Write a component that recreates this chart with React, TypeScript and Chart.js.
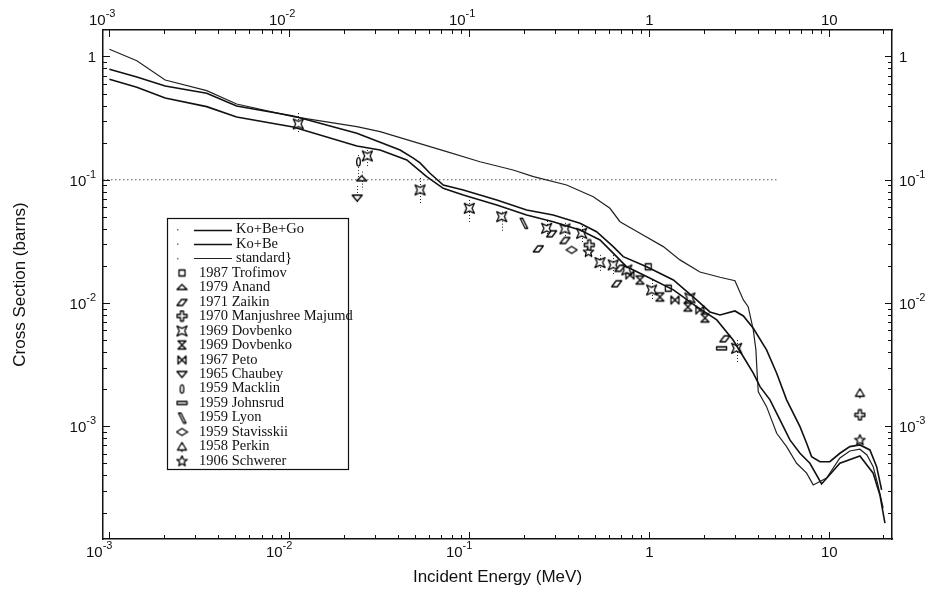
import React, { useEffect, useRef } from "react";
import { Chart, registerables } from "chart.js";

Chart.register(...registerables);

// ---------- axes ----------
const X_MIN = 0.000921;
const X_MAX = 22.3;
const Y_MIN = 0.000122;
const Y_MAX = 1.64;
const X_MAJOR = [0.001, 0.01, 0.1, 1, 10];
const X_LABEL_BASE = ["10", "10", "10", "1", "10"];
const X_LABEL_EXP = ["-3", "-2", "-1", "", ""];
const Y_MAJOR = [0.001, 0.01, 0.1, 1];
const Y_LABEL_BASE = ["10", "10", "10", "1"];
const Y_LABEL_EXP = ["-3", "-2", "-1", ""];
const MINOR_STEPS = [2, 3, 4, 5, 6, 7, 8, 9];
const X_TITLE = "Incident Energy (MeV)";
const Y_TITLE = "Cross Section (barns)";

// ---------- evaluated curves ----------
const KBG_LABEL = "Ko+Be+Go";
const KBG_E = [0.001, 0.00142, 0.00204, 0.00347, 0.00509, 0.0105, 0.0237, 0.0412, 0.0488, 0.0532, 0.0604, 0.0716, 0.0925, 0.142, 0.208, 0.292, 0.412, 0.509, 0.63, 0.716, 0.966, 1.36, 1.83, 2.17, 2.47, 2.99, 3.33, 3.78, 4.48, 5.1, 5.79, 6.87, 7.48, 7.97, 8.87, 10.07, 11.45, 13.0, 14.79, 16.81, 18.32, 19.53];
const KBG_S = [0.787, 0.682, 0.576, 0.503, 0.397, 0.329, 0.238, 0.1745, 0.15, 0.137, 0.113, 0.0907, 0.0827, 0.0686, 0.0569, 0.0518, 0.0444, 0.0379, 0.0287, 0.0238, 0.0197, 0.0154, 0.0106, 0.00847, 0.008, 0.00863, 0.00786, 0.00625, 0.00417, 0.0027, 0.00164, 0.000994, 0.000729, 0.000568, 0.000517, 0.000517, 0.000605, 0.000685, 0.000707, 0.000644, 0.000471, 0.000305];

const KB_LABEL = "Ko+Be";
const KB_E = [0.001, 0.00142, 0.00204, 0.00347, 0.00509, 0.0105, 0.0237, 0.0319, 0.0449, 0.0579, 0.0716, 0.0925, 0.142, 0.208, 0.292, 0.412, 0.532, 0.658, 0.748, 0.966, 1.36, 1.83, 2.37, 2.92, 3.33, 3.78, 4.12, 4.68, 5.32, 6.04, 6.87, 7.8, 9.06, 11.45, 14.79, 17.53, 19.1, 20.37];
const KB_S = [0.653, 0.5625, 0.461, 0.392, 0.323, 0.268, 0.188, 0.1745, 0.1448, 0.106, 0.0853, 0.0753, 0.0625, 0.0518, 0.0457, 0.0392, 0.0325, 0.0238, 0.0197, 0.0164, 0.0128, 0.00935, 0.0073, 0.00502, 0.00367, 0.0027, 0.0021, 0.00164, 0.001127, 0.000776, 0.000605, 0.000502, 0.000341, 0.000502, 0.000575, 0.000417, 0.000278, 0.000164];

const STD_LABEL = "standard}";
const STD_E = [0.001, 0.00142, 0.00204, 0.00347, 0.00509, 0.0105, 0.0237, 0.0319, 0.0488, 0.0748, 0.1145, 0.175, 0.227, 0.347, 0.488, 0.604, 0.687, 0.887, 1.195, 1.479, 1.91, 2.47, 2.99, 3.33, 3.54, 3.78, 3.91, 3.97, 4.03, 4.48, 5.1, 5.79, 6.58, 7.48, 8.14, 9.66, 11.45, 13.0, 14.79, 16.18, 17.53, 18.62, 19.93];
const STD_S = [1.144, 0.925, 0.645, 0.528, 0.412, 0.325, 0.27, 0.2455, 0.2037, 0.169, 0.14, 0.12, 0.106, 0.0907, 0.0729, 0.0587, 0.0457, 0.0368, 0.0287, 0.0224, 0.01787, 0.01619, 0.0152, 0.0106, 0.00935, 0.00605, 0.00417, 0.0027, 0.00191, 0.001445, 0.000879, 0.000684, 0.000502, 0.000417, 0.000335, 0.000381, 0.000554, 0.000631, 0.000652, 0.000586, 0.000471, 0.000335, 0.000217];

const REF_E = [X_MIN, 5.1];
const REF_S = [0.1, 0.1];

// ---------- measurements ----------
const TROFIMOV_E = [0.986, 1.274];
const TROFIMOV_S = [0.0197, 0.0132];
const ANAND_E = [0.0252];
const ANAND_S = [0.1028];
const ANAND_LO = [0.0827];
const ANAND_HI = [0.1164];
const ZAIKIN_E = [0.2415, 0.2864, 0.3398, 0.658, 0.687, 2.63];
const ZAIKIN_S = [0.0278, 0.0368, 0.0325, 0.01448, 0.0193, 0.00518];
const MAJUMDAR_E = [0.4634, 14.79];
const MAJUMDAR_S = [0.0296, 0.001238];
const DOV69A_E = [0.0112, 0.0271, 0.0532, 0.0999, 0.1512, 0.2688, 0.3398, 0.4207, 0.5316, 0.63, 0.75, 1.03, 1.68, 3.055];
const DOV69A_S = [0.2835, 0.156, 0.0827, 0.0587, 0.0502, 0.0404, 0.0399, 0.0368, 0.0213, 0.0204, 0.01856, 0.01277, 0.011, 0.0043];
const DOV69A_LO = [0.2397, 0.1246, 0.0648, 0.0455, 0.0379, 0.035, 0.0338, 0.0313, 0.01787, 0.017, null, 0.0106, null, 0.00333];
const DOV69A_HI = [0.348, 0.1745, 0.1034, 0.0686, 0.0551, 0.0463, 0.0447, 0.0422, 0.0246, 0.0245, null, 0.0154, null, 0.00502];
const DOV69B_E = [0.887, 1.145, 1.638, 2.037];
const DOV69B_S = [0.01539, 0.0112, 0.0093, 0.00757];
const PETO_E = [0.78, 1.388, 1.91];
const PETO_S = [0.0169, 0.0106, 0.00879];
const CHAUBEY_E = [0.0238];
const CHAUBEY_S = [0.0716];
const CHAUBEY_LO = [0.0648];
const CHAUBEY_HI = [0.0891];
const MACKLIN_E = [0.0242];
const MACKLIN_S = [0.14];
const MACKLIN_LO = [0.1034];
const MACKLIN_HI = [0.159];
const JOHNSRUD_E = [2.52];
const JOHNSRUD_S = [0.0043];
const LYON_E = [0.2002];
const LYON_S = [0.0444];
const STAVISSKII_E = [0.37];
const STAVISSKII_S = [0.027];
const PERKIN_E = [14.79];
const PERKIN_S = [0.001856];
const SCHWERER_E = [0.459, 14.79];
const SCHWERER_S = [0.0261, 0.000776];

const SERIES = [
  { label: "1987 Trofimov", marker: "square", e: TROFIMOV_E, s: TROFIMOV_S },
  { label: "1979 Anand", marker: "triUp", e: ANAND_E, s: ANAND_S, lo: ANAND_LO, hi: ANAND_HI },
  { label: "1971 Zaikin", marker: "para", e: ZAIKIN_E, s: ZAIKIN_S },
  { label: "1970 Manjushree Majumd", marker: "plus", e: MAJUMDAR_E, s: MAJUMDAR_S },
  { label: "1969 Dovbenko", marker: "boxX", e: DOV69A_E, s: DOV69A_S, lo: DOV69A_LO, hi: DOV69A_HI },
  { label: "1969 Dovbenko", marker: "hourglass", e: DOV69B_E, s: DOV69B_S },
  { label: "1967 Peto", marker: "bowtie", e: PETO_E, s: PETO_S },
  { label: "1965 Chaubey", marker: "triDown", e: CHAUBEY_E, s: CHAUBEY_S, lo: CHAUBEY_LO, hi: CHAUBEY_HI },
  { label: "1959 Macklin", marker: "capsule", e: MACKLIN_E, s: MACKLIN_S, lo: MACKLIN_LO, hi: MACKLIN_HI },
  { label: "1959 Johnsrud", marker: "bar", e: JOHNSRUD_E, s: JOHNSRUD_S },
  { label: "1959 Lyon", marker: "slash", e: LYON_E, s: LYON_S },
  { label: "1959 Stavisskii", marker: "lens", e: STAVISSKII_E, s: STAVISSKII_S },
  { label: "1958 Perkin", marker: "club", e: PERKIN_E, s: PERKIN_S },
  { label: "1906 Schwerer", marker: "star", e: SCHWERER_E, s: SCHWERER_S },
];

const INK = "#111";
const SANS = '"Liberation Sans", "DejaVu Sans", Arial, sans-serif';
const SERIF = '"Liberation Serif", "Times New Roman", serif';

function buildTicks(majors: number[], lo: number, hi: number) {
  const out: number[] = [];
  majors.forEach((m) => {
    out.push(m);
    MINOR_STEPS.forEach((k) => out.push(m * k));
  });
  MINOR_STEPS.forEach((k) => out.push((majors[0] / 10) * k));
  return out.filter((v) => v >= lo && v <= hi).sort((a, b) => a - b);
}

function majorIndex(v: number, majors: number[]) {
  return majors.findIndex((m) => Math.abs(Math.log10(v) - Math.log10(m)) < 1e-6);
}

function makeMarker(kind: string): HTMLCanvasElement {
  const c = document.createElement("canvas");
  c.width = 13;
  c.height = 13;
  const g = c.getContext("2d") as CanvasRenderingContext2D;
  g.strokeStyle = "#000";
  g.fillStyle = "#fff";
  g.lineWidth = 1.3;
  g.lineJoin = "round";
  g.beginPath();
  const poly = (pts: number[][]) => {
    pts.forEach((p, i) => (i === 0 ? g.moveTo(p[0], p[1]) : g.lineTo(p[0], p[1])));
    g.closePath();
  };
  switch (kind) {
    case "square":
      g.rect(3.5, 3.5, 6, 6);
      break;
    case "triUp":
      poly([[1.5, 9], [6.5, 4], [11.5, 9]]);
      break;
    case "para":
      poly([[1.5, 10], [6, 4], [11.5, 4], [7, 10]]);
      break;
    case "plus":
      poly([[5, 1.5], [8, 1.5], [8, 5], [11.5, 5], [11.5, 8], [8, 8], [8, 11.5], [5, 11.5], [5, 8], [1.5, 8], [1.5, 5], [5, 5]]);
      break;
    case "boxX":
      poly([[1.5, 1.5], [6.5, 3.8], [11.5, 1.5], [9.2, 6.5], [11.5, 11.5], [6.5, 9.2], [1.5, 11.5], [3.8, 6.5]]);
      break;
    case "hourglass":
      poly([[2.5, 2.5], [10.5, 2.5], [2.5, 10.5], [10.5, 10.5]]);
      break;
    case "bowtie":
      poly([[2.5, 2.5], [2.5, 10.5], [10.5, 2.5], [10.5, 10.5]]);
      break;
    case "triDown":
      poly([[1.5, 4], [11.5, 4], [6.5, 10]]);
      break;
    case "capsule":
      g.ellipse(6.5, 6.5, 1.8, 4.2, 0, 0, Math.PI * 2);
      break;
    case "bar":
      g.rect(1.5, 5, 10, 3);
      break;
    case "slash":
      poly([[3, 1.5], [5.5, 1.5], [10.5, 11.5], [8, 11.5]]);
      break;
    case "lens":
      poly([[1, 6.5], [6.5, 3], [12, 6.5], [6.5, 10]]);
      break;
    case "club":
      poly([[6.5, 2], [11, 9.5], [2, 9.5]]);
      break;
    case "star": {
      const pts: number[][] = [];
      for (let i = 0; i < 10; i++) {
        const r = i % 2 === 0 ? 5.5 : 2.4;
        const a = -Math.PI / 2 + (i * Math.PI) / 5;
        pts.push([6.5 + r * Math.cos(a), 6.8 + r * Math.sin(a)]);
      }
      poly(pts);
      break;
    }
    default:
      g.rect(3.5, 3.5, 6, 6);
  }
  g.fill();
  g.stroke();
  if (kind === "club") {
    g.beginPath();
    g.moveTo(6.5, 9.5);
    g.lineTo(6.5, 11.5);
    g.stroke();
  }
  return c;
}

const X_TICKS = buildTicks(X_MAJOR, X_MIN, X_MAX);
const Y_TICKS = buildTicks(Y_MAJOR, Y_MIN, Y_MAX);

const errorBarPlugin = {
  id: "errorBars",
  beforeDatasetsDraw(chart: any) {
    const { ctx, chartArea: a } = chart;
    const x = chart.scales.x;
    const y = chart.scales.y;
    ctx.save();
    ctx.beginPath();
    ctx.rect(a.left, a.top, a.right - a.left, a.bottom - a.top);
    ctx.clip();
    ctx.strokeStyle = "#222";
    ctx.lineWidth = 1;
    ctx.setLineDash([1, 2]);
    chart.data.datasets.forEach((ds: any) => {
      ds.data.forEach((p: any) => {
        if (p.lo == null || p.hi == null) return;
        const px = Math.round(x.getPixelForValue(p.x)) + 0.5;
        ctx.beginPath();
        ctx.moveTo(px, y.getPixelForValue(p.hi));
        ctx.lineTo(px, y.getPixelForValue(p.lo));
        ctx.stroke();
      });
    });
    ctx.restore();
  },
};

function drawPower(ctx: any, base: string, exp: string, x: number, yBase: number, anchor: string, yExp: number) {
  ctx.font = `15px ${SANS}`;
  const wb = ctx.measureText(base).width;
  ctx.font = `11px ${SANS}`;
  const we = exp ? ctx.measureText(exp).width : 0;
  const total = wb + we;
  let left = x;
  if (anchor === "right") left = x - total;
  else if (anchor === "center") left = x - total / 2;
  ctx.textAlign = "left";
  ctx.textBaseline = "alphabetic";
  ctx.font = `15px ${SANS}`;
  ctx.fillText(base, left, yBase);
  if (exp) {
    ctx.font = `11px ${SANS}`;
    ctx.fillText(exp, left + wb, yExp);
  }
}

const axisLabelPlugin = {
  id: "axisLabels",
  afterDraw(chart: any) {
    const { ctx, chartArea: a } = chart;
    const x = chart.scales.x;
    const y = chart.scales.y;
    ctx.save();
    ctx.fillStyle = INK;
    ctx.strokeStyle = INK;
    ctx.lineWidth = 1;
    ctx.beginPath();
    X_TICKS.forEach((v) => {
      const px = Math.round(x.getPixelForValue(v)) + 0.5;
      const len = majorIndex(v, X_MAJOR) >= 0 ? 7 : 4;
      ctx.moveTo(px, a.bottom);
      ctx.lineTo(px, a.bottom - len);
      ctx.moveTo(px, a.top);
      ctx.lineTo(px, a.top + len);
    });
    Y_TICKS.forEach((v) => {
      const py = Math.round(y.getPixelForValue(v)) + 0.5;
      const len = majorIndex(v, Y_MAJOR) >= 0 ? 7 : 4;
      ctx.moveTo(a.left, py);
      ctx.lineTo(a.left + len, py);
      ctx.moveTo(a.right, py);
      ctx.lineTo(a.right - len, py);
    });
    ctx.stroke();
    X_MAJOR.forEach((v, i) => {
      const px = x.getPixelForValue(v);
      const base = X_LABEL_BASE[i];
      const exp = X_LABEL_EXP[i];
      if (exp) {
        drawPower(ctx, base, exp, px + 3, a.bottom + 18, "right", a.bottom + 10);
        drawPower(ctx, base, exp, px + 6, a.top - 5, "right", a.top - 13);
      } else {
        drawPower(ctx, base, exp, px, a.bottom + 18, "center", 0);
        drawPower(ctx, base, exp, px, a.top - 5, "center", 0);
      }
    });
    Y_MAJOR.forEach((v, i) => {
      const py = y.getPixelForValue(v);
      const base = Y_LABEL_BASE[i];
      const exp = Y_LABEL_EXP[i];
      drawPower(ctx, base, exp, a.left - 7, py + 6, "right", py - 2);
      drawPower(ctx, base, exp, a.right + 7, py + 6, "left", py - 2);
    });
    ctx.restore();
  },
};

const boxLegendPlugin = {
  id: "boxLegend",
  afterDatasetsDraw(chart: any) {
    const { ctx } = chart;
    const items = chart.data.datasets.filter((d: any) => d.inLegend);
    const left = 167.5;
    const top = 218.5;
    const w = 181;
    const rowH = 14.47;
    const firstY = 229.5;
    const h = 251;
    ctx.save();
    ctx.fillStyle = "#fff";
    ctx.fillRect(left, top, w, h);
    ctx.strokeStyle = INK;
    ctx.lineWidth = 1.2;
    ctx.strokeRect(left, top, w, h);
    ctx.font = `14.5px ${SERIF}`;
    ctx.textBaseline = "middle";
    ctx.textAlign = "left";
    items.forEach((d: any, i: number) => {
      const yy = firstY + i * rowH;
      if (d.showLine) {
        ctx.fillStyle = "#777";
        ctx.fillRect(177, yy - 0.5, 1.5, 1.5);
        ctx.strokeStyle = d.borderColor;
        ctx.lineWidth = d.borderWidth;
        ctx.beginPath();
        ctx.moveTo(194, Math.round(yy) + 0.5);
        ctx.lineTo(232, Math.round(yy) + 0.5);
        ctx.stroke();
        ctx.fillStyle = INK;
        ctx.fillText(d.label, 236, yy);
      } else {
        ctx.drawImage(d.pointStyle, 182 - 6.5, Math.round(yy) - 6.5);
        ctx.fillStyle = INK;
        ctx.fillText(d.label, 199, yy);
      }
    });
    ctx.restore();
  },
};

function logScale(position: string, isX: boolean, size: number, title?: any) {
  const ticks = isX ? X_TICKS : Y_TICKS;
  return {
    type: "logarithmic",
    position,
    axis: isX ? "x" : "y",
    min: isX ? X_MIN : Y_MIN,
    max: isX ? X_MAX : Y_MAX,
    afterBuildTicks: (s: any) => {
      s.ticks = ticks.map((v) => ({ value: v }));
    },
    afterFit: (s: any) => {
      if (isX) s.height = size;
      else s.width = size;
    },
    grid: { display: false, drawTicks: false },
    border: { display: true, color: INK, width: 1.5 },
    ticks: { display: false, autoSkip: false },
    title: title || { display: false },
  };
}

export default function App() {
  const ref = useRef<HTMLCanvasElement | null>(null);

  useEffect(() => {
    if (!ref.current) return;
    const lineDs = (label: string, e: number[], s: number[], color: string, width: number) => ({
      label,
      data: e.map((v, i) => ({ x: v, y: s[i] })),
      showLine: true,
      pointRadius: 0,
      borderColor: color,
      backgroundColor: color,
      borderWidth: width,
      fill: false,
      inLegend: true,
    });
    const datasets: any[] = [
      lineDs(KBG_LABEL, KBG_E, KBG_S, "#111", 1.6),
      lineDs(KB_LABEL, KB_E, KB_S, "#111", 1.6),
      lineDs(STD_LABEL, STD_E, STD_S, "#222", 1.2),
      {
        label: "0.1 b",
        data: REF_E.map((v, i) => ({ x: v, y: REF_S[i] })),
        showLine: true,
        pointRadius: 0,
        borderColor: "#555",
        borderWidth: 1,
        borderDash: [1.5, 2.5],
        fill: false,
        inLegend: false,
      },
    ];
    SERIES.forEach((sr: any) => {
      datasets.push({
        label: sr.label,
        data: sr.e.map((v: number, i: number) => ({
          x: v,
          y: sr.s[i],
          lo: sr.lo ? sr.lo[i] : null,
          hi: sr.hi ? sr.hi[i] : null,
        })),
        showLine: false,
        pointStyle: makeMarker(sr.marker),
        pointRadius: 5,
        borderColor: INK,
        backgroundColor: "#fff",
        inLegend: true,
      });
    });

    const chart = new Chart(ref.current, {
      type: "scatter",
      data: { datasets },
      options: {
        responsive: false,
        maintainAspectRatio: false,
        animation: false,
        devicePixelRatio: 1,
        layout: { padding: 0 },
        plugins: { legend: { display: false }, tooltip: { enabled: false } },
        scales: {
          x: logScale("bottom", true, 53, {
            display: true,
            text: X_TITLE,
            color: INK,
            font: { family: SANS, size: 17 },
            padding: { top: 0, bottom: 4 },
          }),
          xTop: logScale("top", true, 30),
          y: logScale("left", false, 103, {
            display: true,
            text: Y_TITLE,
            color: INK,
            font: { family: SANS, size: 17 },
            padding: { top: 10, bottom: 0 },
          }),
          yRight: logScale("right", false, 41),
        },
      } as any,
      plugins: [errorBarPlugin, axisLabelPlugin, boxLegendPlugin],
    } as any);
    return () => chart.destroy();
  }, []);

  return (
    <div style={{ position: "absolute", left: 0, top: 0, width: 933, height: 592, background: "#fff" }}>
      <canvas ref={ref} width={933} height={592} style={{ display: "block" }} />
    </div>
  );
}
